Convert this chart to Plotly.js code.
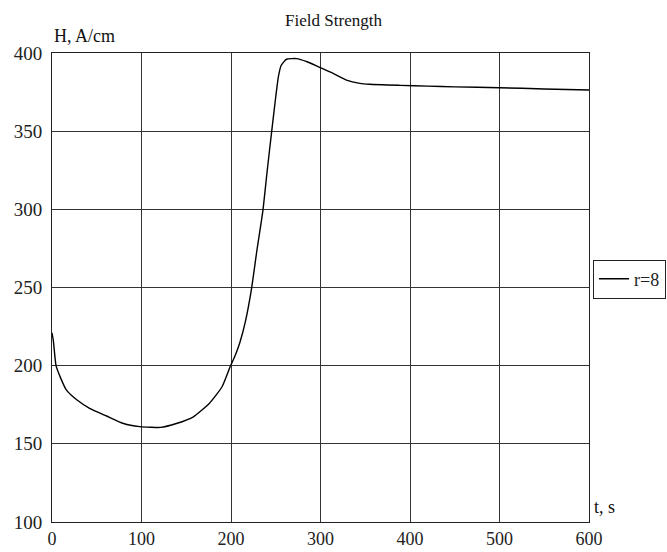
<!DOCTYPE html>
<html>
<head>
<meta charset="utf-8">
<script src="https://cdn.plot.ly/plotly-3.0.1.min.js"></script>
<style>
html, body { margin: 0; padding: 0; background: #fff; }
#chart { width: 667px; height: 552px; }
</style>
</head>
<body>
<div id="chart"></div>
<script>
const chartTitle = "Field Strength";
const xAxisLabel = "t, s";
const yAxisLabel = "H, A/cm";
const seriesName = "r=8";
const tValues = [0, 1.5, 4.5, 9, 16, 28, 42, 61, 80, 98, 110, 121, 139, 158, 176, 190, 199, 205, 210, 216, 223, 229, 235.5, 240.5, 245.5, 250, 253, 256, 262, 273, 285, 299, 314, 329, 344, 355, 389, 420, 450, 500, 550, 600];
const hValues = [221, 216, 200, 193, 184.5, 178, 172.7, 167.8, 163, 161, 160.6, 160.5, 163, 167.3, 176, 186.5, 199.3, 207, 215, 228, 249.5, 274, 298.5, 325, 350, 372, 385, 392, 396, 396.4, 394.4, 390.8, 387, 382.7, 380.6, 380, 379.3, 378.8, 378.3, 377.8, 377, 376.3];
const xTicks = [0, 100, 200, 300, 400, 500, 600];
const yTicks = [100, 150, 200, 250, 300, 350, 400];

const FONT = "Liberation Serif, Times New Roman, serif";
const trace = {
  x: tValues, y: hValues, type: "scatter", mode: "lines", name: seriesName,
  line: { color: "#000", width: 1.4, shape: "spline", smoothing: 0.5 }
};
const layout = {
  width: 667, height: 552,
  margin: { l: 52, r: 78, t: 53, b: 30, pad: 0, autoexpand: false },
  paper_bgcolor: "#fff", plot_bgcolor: "#fff",
  font: { family: FONT, size: 19, color: "#222" },
  title: { text: chartTitle, x: 0.5, xanchor: "center", y: 1, yref: "paper", yanchor: "bottom", pad: { b: 27 }, font: { family: FONT, size: 17, color: "#111" } },
  showlegend: true,
  legend: {
    x: 1.0075, xanchor: "left", y: 0.518, yanchor: "middle",
    bordercolor: "#222", borderwidth: 1, bgcolor: "#fff",
    font: { family: FONT, size: 18, color: "#222" },
    tracegroupgap: 0, itemwidth: 30
  },
  xaxis: {
    range: [0, 600], tickvals: xTicks, ticktext: xTicks.map(String),
    showgrid: true, gridcolor: "#333", gridwidth: 1,
    showline: true, linecolor: "#222", linewidth: 1, mirror: true,
    zeroline: false, ticks: "", ticklabelstandoff: 0,
    tickfont: { family: FONT, size: 18, color: "#222" }
  },
  yaxis: {
    range: [100, 400], tickvals: yTicks, ticktext: yTicks.map(String),
    showgrid: true, gridcolor: "#333", gridwidth: 1,
    showline: true, linecolor: "#222", linewidth: 1, mirror: true,
    zeroline: false, ticks: "", ticklabelstandoff: 5,
    tickfont: { family: FONT, size: 19, color: "#222" }
  },
  annotations: [
    { text: yAxisLabel, xref: "paper", yref: "paper", x: 0, y: 1, xanchor: "left", yanchor: "bottom", yshift: 5, showarrow: false, font: { family: FONT, size: 18, color: "#111" } },
    { text: xAxisLabel, xref: "paper", yref: "paper", x: 1, y: 0, xanchor: "left", yanchor: "bottom", xshift: 3, yshift: 3, showarrow: false, font: { family: FONT, size: 18, color: "#111" } }
  ]
};
Plotly.newPlot("chart", [trace], layout, { displayModeBar: false, staticPlot: true });
</script>
</body>
</html>
